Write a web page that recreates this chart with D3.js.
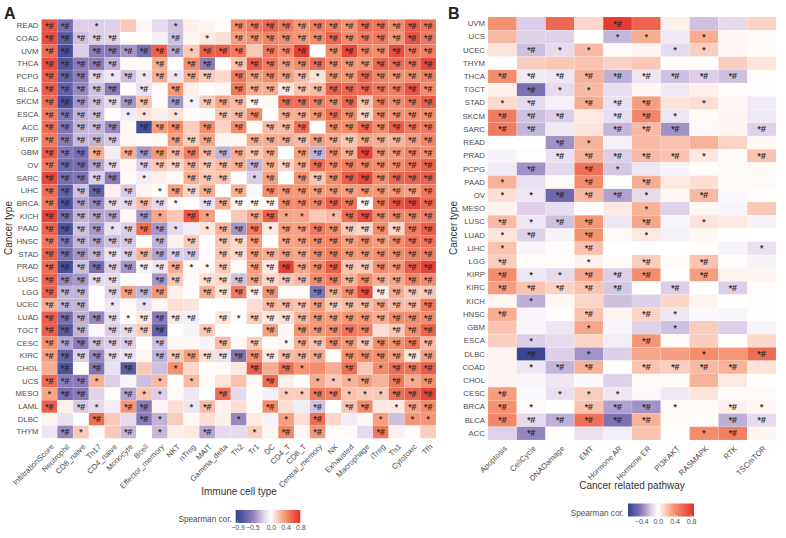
<!DOCTYPE html>
<html>
<head>
<meta charset="utf-8">
<script src="https://cdn.jsdelivr.net/npm/d3@7"></script>
<style>
  body { margin: 0; background: #fff; }
  text { font-family: "Liberation Sans", Arial, sans-serif; }
</style>
</head>
<body>
<div id="chart"></div>
<script>
const cancersA = ['READ','COAD','UVM','THCA','PCPG','BLCA','SKCM','ESCA','ACC','KIRP','GBM','OV','SARC','LIHC','BRCA','KICH','PAAD','HNSC','STAD','PRAD','LUSC','LGG','UCEC','LUAD','TGCT','CESC','KIRC','CHOL','UCS','MESO','LAML','DLBC','THYM'];
const cellTypes = ['InfiltrationScore','Neutrophil','CD8_naive','Th17','CD4_naive','Monocyte','Bcell','Effector_memory','NKT','nTreg','MAIT','Gamma_delta','Th2','Tr1','DC','CD4_T','CD8_T','Central_memory','NK','Exhausted','Macrophage','iTreg','Th1','Cytotoxic','Tfh'];

// one row per cancer, one value per cell type
const corA = [
  [.65,-.6,-.2,-.2,-.2,.2,.03,-.15,-.25,.06,.04,.01,.42,.5,.58,.5,.38,.48,.48,.38,.55,.52,.42,.62,.52],
  [.68,-.75,-.25,-.2,-.18,.01,.01,-.06,-.25,.04,.08,.12,.35,.4,.45,.42,.38,.42,.58,.42,.48,.5,.38,.65,.5],
  [.55,-.85,-.2,-.5,-.5,-.4,-.6,.6,-.35,.2,.6,.6,.5,.2,.5,.42,.75,0,.42,.7,.45,.42,.68,.5,.48],
  [.68,-.8,-.5,-.5,-.3,.02,.02,.3,.01,.42,-.5,.01,.22,.62,.5,.35,.42,.55,.42,.38,.38,.58,.55,.52,.7],
  [.62,-.7,-.5,-.18,-.1,-.25,-.1,.3,-.1,.3,.2,.14,.5,.35,.42,.35,.25,.1,.4,.38,.58,.45,.4,.42,.48],
  [.62,-.7,-.45,-.25,-.5,.01,-.12,.02,.38,.06,.01,.03,.5,.3,.3,.08,.22,.25,.6,.58,.58,.5,.48,.65,.42],
  [.55,-.85,-.4,-.25,-.15,-.4,.22,.02,-.4,-.06,.2,.32,.25,.02,.03,.55,.55,.48,.42,.58,.22,.48,.42,.52,.62],
  [.5,-.55,-.3,-.25,0,-.08,.1,.06,.1,.02,.02,.22,.25,.42,.01,.3,.3,.38,.55,.42,.15,.42,.4,.42,.42],
  [.55,-.55,-.3,-.28,-.45,.03,-.85,.35,.42,.18,.42,.16,.42,.02,.25,.25,.55,0,.42,.42,.58,.42,.62,.5,.5],
  [.5,-.5,-.28,-.3,-.22,.03,.01,.02,.35,.18,.32,.04,.03,.3,.3,.3,.25,.35,.3,.22,.32,.3,.28,.35,.45],
  [.62,-.55,-.6,.3,-.08,.3,-.4,.38,.25,.48,.25,-.3,.3,.2,.3,0,.35,-.3,.42,.3,.72,.38,.38,.45,.42],
  [.5,-.65,-.6,-.35,-.15,.03,-.2,.2,.15,.28,.2,.25,.28,-.3,.28,.15,.3,.55,.42,.48,.45,.42,.42,.52,.6],
  [.7,-.6,-.55,-.2,-.5,.02,-.08,.05,.02,.3,.2,.22,0,-.2,.35,0,.4,.2,.42,.62,.7,.42,.58,.6,.6],
  [.55,-.7,-.25,-.7,.06,-.22,.04,.02,.35,.15,.3,0,.28,-.03,.42,.38,.38,.35,.38,.35,.38,.38,.38,.35,.5],
  [.5,-.8,-.35,-.45,-.15,-.15,.25,-.15,.02,0,-.12,.3,.02,.02,.02,.42,.42,.45,.6,.52,.03,.5,.65,.72,.58],
  [.72,-.6,-.3,-.35,-.35,.03,-.4,.32,.2,.65,.35,.01,.2,.32,.6,.32,.32,.2,.25,.55,.68,.42,.45,.45,.48],
  [.6,-.8,-.25,-.4,-.12,-.2,.55,-.4,-.15,-.08,.1,.28,-.4,.5,.08,.35,.35,.5,.42,.2,.15,.42,.15,.5,.62],
  [.5,-.55,-.3,-.35,-.25,-.22,.01,-.3,.05,.2,0,.22,.15,.35,0,.32,.35,.42,.45,.35,.42,.35,.42,.52,.52],
  [.6,-.6,-.4,-.3,-.12,-.2,.28,-.35,-.2,-.22,.01,.22,.13,.35,.3,.35,.32,.42,.48,.38,.38,.42,.42,.48,.48],
  [.55,-.85,-.25,-.6,-.2,-.4,-.05,-.1,.3,.03,.03,.2,.02,.35,.08,.72,.32,.42,.62,.22,.2,.42,.38,.62,.72],
  [.6,-.45,-.4,-.15,-.15,.02,.01,-.4,.2,.02,.12,.14,-.25,.32,.15,.2,.25,.42,.48,.28,.42,.3,.32,.45,.42],
  [.6,-.3,-.3,0,-.18,.35,-.3,.38,.06,.01,.3,.1,.5,.05,.4,.02,.02,-.55,.3,.42,.68,.06,.3,.2,.2],
  [.3,-.3,-.3,.01,-.1,.02,-.12,.03,.12,.1,0,0,.01,.12,.25,.25,.22,.35,.2,.25,.25,.32,.25,.25,.5],
  [.62,-.6,-.3,-.45,-.15,.01,.08,-.5,.08,-.08,0,.1,.01,.18,.08,.12,.28,.38,.35,.38,.38,.3,.42,.42,.42],
  [.62,-.75,-.3,-.03,-.2,-.15,.2,-.7,0,-.05,.2,.01,0,0,.35,.03,.4,.38,.42,.52,.45,.12,.2,.42,.6],
  [.4,-.35,-.5,-.25,-.2,-.2,0,-.25,.03,.03,-.05,.25,.03,.18,.02,.04,.3,.22,.42,.38,.2,.42,.4,.5,.25],
  [.35,-.7,-.2,-.45,-.15,-.12,.03,-.3,.2,.35,.12,-.12,-.55,.4,.08,.25,.28,.32,.01,.4,.42,.42,.35,.1,.35],
  [.3,-.8,0,-.55,-.12,-.75,.2,-.25,.4,.15,.01,.02,.08,.62,.3,.55,.38,.42,.3,.55,.2,.42,.55,.5,.62],
  [.55,-.5,-.5,.28,-.2,-.04,-.25,.25,0,.25,.02,.1,.22,.03,.55,.06,.01,.3,.2,.28,.35,.28,.5,.3,.4],
  [.32,-.6,-.5,-.18,.01,-.35,.22,-.2,.02,-.1,0,.55,-.15,.02,-.06,.18,.18,.5,.48,.22,.2,.2,.55,.6,.72],
  [.6,.06,-.22,-.15,-.08,.38,-.5,.04,.12,-.1,.25,.05,.12,.02,.42,.12,-.08,-.25,0,.22,.42,.08,.08,.32,.42],
  [.04,-.12,0,.55,.2,-.15,-.5,-.3,.18,.03,.12,.06,-.45,.08,-.05,.35,.12,.55,.15,-.08,.03,.35,-.25,.38,.38],
  [-.1,-.45,.2,.02,.2,-.28,0,-.28,.06,.08,-.35,-.15,-.15,.18,.04,.45,.03,.38,.01,.02,-.15,.5,.05,.01,.18]
];

// 0 none, 1 "*", 2 "*#"
const sigA = [
  '2201000010002222222222222',
  '2222200020102222222222222',
  '2202222221222022202222222',
  '2222200202202222222222222',
  '2222121212202222212222222',
  '2222202020002222222222222',
  '2222222021222202222222222',
  '2222011010022202222222222',
  '2222202220202022202222222',
  '2222200022200222222222222',
  '2222022222222220222222222',
  '2222202222222222222222222',
  '2222201002220120222222222',
  '2222020122202022222222222',
  '2222222210222222222222222',
  '2222202102100221101222222',
  '2222122210122212222222222',
  '2222220202022202222222222',
  '2222222222022222222222222',
  '2222222221120222222222222',
  '2222200220222222222222222',
  '2220222200222220022222222',
  '2220101000000022222222222',
  '2222212222021222222222222',
  '2220222200200020222220222',
  '2222220200020201222222222',
  '2222220222222222220222222',
  '0202020010000202100201222',
  '2221000101000020011120212',
  '1220021100020001122111222',
  '2021022001200020020220122',
  '0002002100001001020001011',
  '0210020100200102020002000'
];

const cancersB = ['UVM','UCS','UCEC','THYM','THCA','TGCT','STAD','SKCM','SARC','READ','PRAD','PCPG','PAAD','OV','MESO','LUSC','LUAD','LIHC','LGG','KIRP','KIRC','KICH','HNSC','GBM','ESCA','DLBC','COAD','CHOL','CESC','BRCA','BLCA','ACC'];
const pathways = ['Apoptosis','CellCycle','DNADamage','EMT','Hormone AR','Hormone ER','PI3KAKT','RASMAPK','RTK','TSCmTOR'];

const corB = [
  [.4,-.16,.6,.15,.82,.62,.06,-.2,-.12,.16],
  [.25,-.15,-.15,0,-.23,.3,-.07,.3,.03,.02],
  [.1,-.2,-.12,.25,.02,.04,-.12,.18,.03,.02],
  [0,.18,.2,.22,.16,.2,0,.01,.18,.1],
  [.42,-.07,-.08,.28,-.25,-.08,-.2,-.16,-.2,.01],
  [.05,-.45,-.12,.25,-.11,.03,-.07,.05,.01,.01],
  [.14,-.12,-.05,.3,-.1,.35,.1,.12,.03,-.07],
  [.5,-.2,-.16,.08,-.11,.45,-.08,.02,.04,-.07],
  [.5,-.23,-.07,.1,-.23,.25,-.33,-.02,.04,-.15],
  [0,0,-.33,.28,-.05,.25,.22,.28,.16,.03],
  [-.04,.01,-.1,.28,-.16,.25,.22,.08,.02,.22],
  [-.07,-.33,-.12,.55,-.18,-.08,-.04,.01,.02,.02],
  [.28,-.1,.02,.42,0,.3,.08,.12,.02,.02],
  [.12,-.08,-.5,.25,-.29,-.12,.03,.25,-.02,.01],
  [.04,-.16,-.11,0,.08,.28,-.15,.03,-.03,.2],
  [.25,-.08,-.2,.38,-.08,.32,-.03,.1,.08,-.04],
  [.1,-.15,-.04,.4,.02,.08,-.05,.03,0,0],
  [.22,-.03,.01,.22,0,0,0,.01,-.04,-.1],
  [.18,.01,.01,.05,.02,.18,.02,.22,.01,-.04],
  [.42,-.08,-.12,.32,-.16,.42,0,.35,.04,.04],
  [.35,.22,.16,.22,-.18,0,-.16,0,-.16,.01],
  [.03,-.25,.03,.15,-.2,-.16,.15,.04,0,.01],
  [.3,-.03,.01,.22,.04,.16,-.08,-.02,-.03,.01],
  [.22,-.03,-.08,.32,-.03,-.15,-.2,.18,-.16,-.04],
  [.18,-.16,-.12,.16,-.06,.38,.02,.18,0,.14],
  [.04,-.7,-.16,-.33,-.16,.32,.35,.42,.38,.58],
  [.04,-.08,-.23,.28,0,.22,.18,.25,.28,.1],
  [.04,-.03,-.08,-.02,-.15,.02,.02,.28,.08,.01],
  [.35,-.02,-.1,.18,-.08,-.02,-.07,.1,.02,.02],
  [.4,.02,0,.22,-.29,-.33,.02,.02,.05,.03],
  [.45,-.12,-.25,.55,-.45,.28,.02,.01,-.25,-.12],
  [-.15,-.37,.01,-.1,-.06,.22,.01,.42,.48,.04]
];

const sigB = [
  '0000200000','0000110100','0211001100','0000000000','2222222220',
  '0211000000','1202220100','2220221000','2200222002','0021000000',
  '0022222102','0202100000','1002020000','1122210200','0000010000',
  '2122020100','1202010000','1002000001','2001020200','2112220200',
  '2222202020','0100000000','2002021000','0001001000','0100020000',
  '0201000102','0122022220','0000000000','2011100000','2102221021',
  '2222220022','0200000120'
];

const colorsA = ['#34408f', '#8a7ab8', '#dccfe7', '#ffffff', '#f4916e', '#e3302a'];
const stopsA = [-0.95, -0.5, -0.2, 0, 0.4, 0.8];
const ticksA = [-0.9, -0.5, 0, 0.4, 0.8];
const stopsB = [-0.72, -0.4, -0.16, 0, 0.4, 0.87];
const ticksB = [-0.4, 0, 0.4, 0.8];

const markLabels = ['', '*', '*#'];
const textColor = '#4d4d4d';

const svg = d3.select('#chart').append('svg')
  .attr('width', 786)
  .attr('height', 538)
  .style('display', 'block');
const defs = svg.append('defs');

function drawPanel(p) {
  const x = d3.scaleBand().domain(p.cols).range([p.left, p.right]);
  const y = d3.scaleBand().domain(p.rows).range([p.top, p.bottom]);
  const color = d3.scaleLinear().domain(p.stops).range(colorsA).clamp(true);

  const cells = p.rows.flatMap((row, i) => p.cols.map((col, j) => ({
    row, col, value: p.values[i][j], mark: markLabels[+p.sig[i][j]]
  })));

  svg.append('g').selectAll('rect')
    .data(cells)
    .join('rect')
    .attr('x', d => x(d.col))
    .attr('y', d => y(d.row))
    .attr('width', x.bandwidth())
    .attr('height', y.bandwidth())
    .attr('fill', d => color(d.value))
    .attr('stroke', '#fff')
    .attr('stroke-opacity', 0.25)
    .attr('stroke-width', 0.5);

  svg.append('g').selectAll('text')
    .data(cells.filter(d => d.mark))
    .join('text')
    .attr('x', d => x(d.col) + x.bandwidth() / 2)
    .attr('y', d => y(d.row) + y.bandwidth() / 2 + 3)
    .attr('text-anchor', 'middle')
    .attr('font-size', 8.6)
    .attr('fill', '#262626')
    .attr('stroke', '#262626')
    .attr('stroke-width', 0.2)
    .text(d => d.mark);

  // axes, no lines just the labels
  const yAxis = svg.append('g')
    .attr('transform', `translate(${p.left - 3}, 0)`)
    .call(d3.axisLeft(y).tickSize(0).tickPadding(0));
  yAxis.select('.domain').remove();
  yAxis.selectAll('text')
    .attr('font-size', 7.8)
    .attr('fill', textColor)
    .style('font-family', '"Liberation Sans", Arial, sans-serif');

  const xAxis = svg.append('g')
    .attr('transform', `translate(0, ${p.bottom})`)
    .call(d3.axisBottom(x).tickSize(0).tickPadding(0));
  xAxis.select('.domain').remove();
  xAxis.selectAll('text')
    .attr('font-size', 7.8)
    .attr('fill', textColor)
    .style('font-family', '"Liberation Sans", Arial, sans-serif')
    .attr('text-anchor', 'end')
    .attr('dy', 0)
    .attr('y', 0)
    .attr('transform', 'translate(5, 9) rotate(-45)');

  svg.append('text')
    .attr('x', p.panelX)
    .attr('y', 19)
    .attr('font-size', 16)
    .attr('font-weight', 'bold')
    .attr('fill', '#222')
    .text(p.panel);

  svg.append('text')
    .attr('transform', `translate(${p.yTitleX}, ${p.yTitleY}) rotate(-90)`)
    .attr('text-anchor', 'middle')
    .attr('font-size', 10)
    .attr('fill', '#333')
    .text('Cancer type');

  svg.append('text')
    .attr('x', p.xTitleX)
    .attr('y', p.xTitleY)
    .attr('text-anchor', 'middle')
    .attr('font-size', 10)
    .attr('fill', '#333')
    .text(p.xTitle);

  // colour bar
  const lg = p.legend;
  const lo = p.stops[0];
  const hi = p.stops[p.stops.length - 1];
  const lx = d3.scaleLinear().domain([lo, hi]).range([lg.x0, lg.x1]);
  const gradient = defs.append('linearGradient').attr('id', 'grad' + p.panel);
  p.stops.forEach(s => {
    gradient.append('stop')
      .attr('offset', (s - lo) / (hi - lo))
      .attr('stop-color', color(s));
  });
  svg.append('rect')
    .attr('x', lg.x0)
    .attr('y', lg.y)
    .attr('width', lg.x1 - lg.x0)
    .attr('height', lg.h)
    .attr('fill', `url(#grad${p.panel})`);

  svg.append('g').selectAll('line')
    .data(p.ticks)
    .join('line')
    .attr('x1', d => lx(d))
    .attr('x2', d => lx(d))
    .attr('y1', lg.y + lg.h - 2.6)
    .attr('y2', lg.y + lg.h)
    .attr('stroke', '#fff')
    .attr('stroke-width', 0.4);

  const lAxis = svg.append('g')
    .attr('transform', `translate(0, ${lg.y + lg.h})`)
    .call(d3.axisBottom(lx).tickValues(p.ticks).tickFormat(d3.format('.1f')).tickSize(0).tickPadding(2.5));
  lAxis.select('.domain').remove();
  lAxis.selectAll('text')
    .attr('font-size', 7)
    .attr('fill', textColor)
    .style('font-family', '"Liberation Sans", Arial, sans-serif');

  svg.append('text')
    .attr('x', lg.x0 - 4)
    .attr('y', lg.y + lg.h - 1)
    .attr('text-anchor', 'end')
    .attr('font-size', 8.2)
    .attr('fill', textColor)
    .text('Spearman cor.');
}

drawPanel({
  panel: 'A', panelX: 4, rows: cancersA, cols: cellTypes, values: corA, sig: sigA,
  left: 41.5, right: 436, top: 19.3, bottom: 438.3,
  stops: stopsA, ticks: ticksA,
  yTitleX: 12, yTitleY: 228, xTitleX: 239, xTitleY: 495, xTitle: 'Immune cell type',
  legend: { x0: 235.7, x1: 300.3, y: 510, h: 13 }
});

drawPanel({
  panel: 'B', panelX: 448, rows: cancersB, cols: pathways, values: corB, sig: sigB,
  left: 488, right: 776, top: 17, bottom: 440,
  stops: stopsB, ticks: ticksB,
  yTitleX: 457, yTitleY: 228, xTitleX: 632, xTitleY: 489, xTitle: 'Cancer related pathway',
  legend: { x0: 628, x1: 694, y: 503.5, h: 13 }
});
</script>
</body>
</html>
